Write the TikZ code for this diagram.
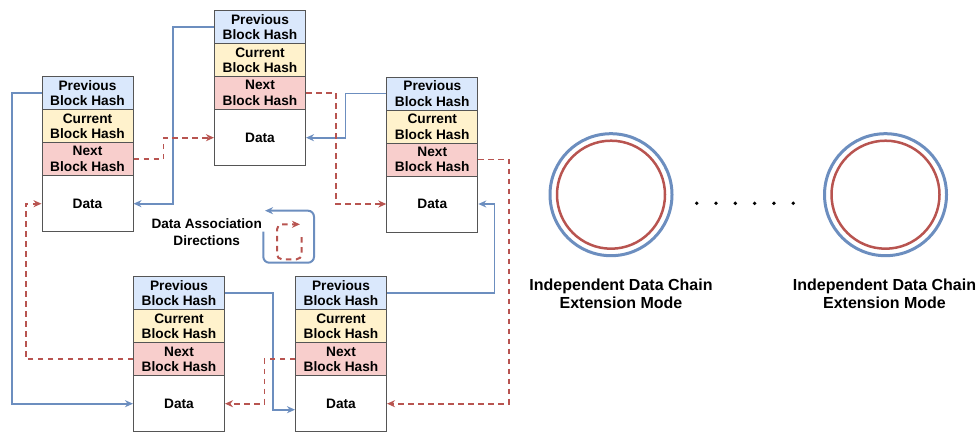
\documentclass[tikz,border=0pt]{standalone}
\usepackage{fontspec}
\setmainfont{Liberation Sans}
\usetikzlibrary{arrows.meta}

\definecolor{prevfill}{HTML}{DAE8FC}
\definecolor{curfill}{HTML}{FFF2CC}
\definecolor{nextfill}{HTML}{F8CECC}
\definecolor{boxgray}{HTML}{555555}
\definecolor{linkblue}{HTML}{6C8EBF}
\definecolor{linkred}{HTML}{B85450}

\begin{document}
\begin{tikzpicture}[x=1pt, y=-1pt,
  field/.style={draw=boxgray, line width=1pt, minimum width=91pt, minimum height=33pt,
    inner sep=0pt, align=center, font={\fontsize{13.7}{15.7}\selectfont\bfseries}},
  prevfield/.style={field, fill=prevfill},
  curfield/.style={field, fill=curfill},
  nextfield/.style={field, fill=nextfill},
  datafield/.style={field, fill=white, minimum height=56pt},
  prevlink/.style={draw=linkblue, line width=1.6pt, -{Stealth[length=8pt,width=7pt]}},
  nextlink/.style={draw=linkred, line width=1.6pt, dash pattern=on 5.5pt off 4.5pt,
    -{Stealth[length=8pt,width=7pt]}},
  chainlabel/.style={align=center, font={\fontsize{16}{18.3}\selectfont\bfseries}}
]
\useasboundingbox (0,0) rectangle (979,436);

% Draw the blocks
\node[prevfield] (B1p) at (87.5,93.2) {Previous\\Block Hash};
\node[curfield]  (B1c) at (87.5,126.2) {Current\\Block Hash};
\node[nextfield] (B1n) at (87.5,159.2) {Next\\Block Hash};
\node[datafield] (B1d) at (87.5,203.7) {Data};

\node[prevfield] (B2p) at (260,27.2) {Previous\\Block Hash};
\node[curfield]  (B2c) at (260,60.2) {Current\\Block Hash};
\node[nextfield] (B2n) at (260,93.2) {Next\\Block Hash};
\node[datafield] (B2d) at (260,137.7) {Data};

\node[prevfield] (B3p) at (432.3,93.5) {Previous\\Block Hash};
\node[curfield]  (B3c) at (432.3,126.5) {Current\\Block Hash};
\node[nextfield] (B3n) at (432.3,159.5) {Next\\Block Hash};
\node[datafield] (B3d) at (432.3,204) {Data};

\node[prevfield] (B4p) at (179,293.2) {Previous\\Block Hash};
\node[curfield]  (B4c) at (179,326.2) {Current\\Block Hash};
\node[nextfield] (B4n) at (179,359.2) {Next\\Block Hash};
\node[datafield] (B4d) at (179,403.7) {Data};

\node[prevfield] (B5p) at (341,293.2) {Previous\\Block Hash};
\node[curfield]  (B5c) at (341,326.2) {Current\\Block Hash};
\node[nextfield] (B5n) at (341,359.2) {Next\\Block Hash};
\node[datafield] (B5d) at (341,403.7) {Data};

% Previous hash links
\draw[prevlink] (B2p.west) -- ++(-41,0) |- (B1d.east);
\draw[prevlink] (B1p.west) -- ++(-29.7,0) |- (B4d.west);
\draw[prevlink] (B3p.west) -- ++(-41,0) |- (B2d.east);
\draw[prevlink] (B4p.east) -- ++(47.7,0) |- ([yshift=-6pt]B5d.west);
\draw[prevlink] (B5p.east) -- ++(107.3,0) |- (B3d.east);

% Next hash links
\draw[nextlink] (B1n.east) -- ++(30,0) |- (B2d.west);
\draw[nextlink] (B2n.east) -- ++(30,0) |- (B3d.west);
\draw[nextlink] (B3n.east) -- ++(30.6,0) |- (B5d.east);
\draw[nextlink] (B5n.west) -- ++(-30.7,0) |- (B4d.east);
\draw[nextlink] (B4n.west) -- ++(-107.3,0) |- (B1d.west);

% Legend
\node[align=center, font={\fontsize{13.6}{16.7}\selectfont\bfseries}] (legend) at (206.7,231.8)
  {Data Association\\Directions};
\draw[prevlink, line width=2pt, rounded corners=6pt] (263.3,231.7) -- (263.3,262.7) -- (314,262.7)
  -- (314,210.7) -- (265,210.7);
\draw[nextlink, line width=2pt, rounded corners=5pt] (301.5,237) -- (301.5,259.3) -- (277,259.3)
  -- (277,224.3) -- (300,224.3);

% Independent chains
\node[circle, draw=linkblue, line width=3pt, minimum size=122pt, inner sep=0pt] (C1) at (611,194.7) {};
\node[circle, draw=linkred, line width=2.5pt, minimum size=108pt, inner sep=0pt] (C1in) at (611,194.7) {};
\node[circle, draw=linkblue, line width=3pt, minimum size=122pt, inner sep=0pt] (C2) at (885.5,194.7) {};
\node[circle, draw=linkred, line width=2.5pt, minimum size=108pt, inner sep=0pt] (C2in) at (885.5,194.7) {};

\foreach \i in {0,...,5}
  \fill (696.7+19.3*\i,203.3) circle (1.9pt);

\node[chainlabel] (L1) at (621,294) {Independent Data Chain\\Extension Mode};
\node[chainlabel] (L2) at (884.5,294) {Independent Data Chain\\Extension Mode};

\end{tikzpicture}
\end{document}
